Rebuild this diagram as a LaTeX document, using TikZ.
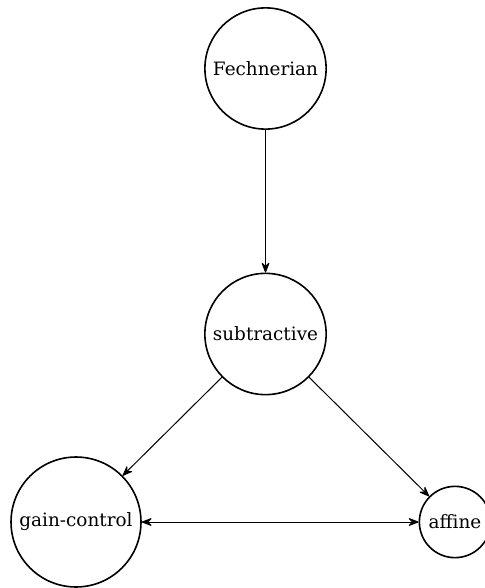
\documentclass[tikz,border=0pt]{standalone}
\usepackage{fontspec}
\setmainfont{DejaVu Serif}
\usetikzlibrary{arrows.meta,positioning}
\tikzset{model/.style={circle, draw, thick, font=\fontsize{9.2}{11}\selectfont}, link/.style={->, >={Stealth[length=6pt,width=4.6pt,inset=2.2pt,round]}, line width=0.5pt}}

\begin{document}
\begin{tikzpicture}[x=0.5pt, y=-0.5pt]
    \useasboundingbox (0,0) rectangle (485,588);
    \node[model] (fech) at (265.5,68.5) {Fechnerian};
    \node[model] (subtr) at (265.5,334) {subtractive};
    \node[model] (gain) at (76,522) {gain-control};
    \node[model] (affine) at (455,522) {affine};
    \draw[link] (fech) -- (subtr);
    \draw[link] (subtr) -- (gain);
    \draw[link] (subtr) -- (affine);
    \draw[link, <->] (gain) -- (affine);
\end{tikzpicture}
\end{document}
